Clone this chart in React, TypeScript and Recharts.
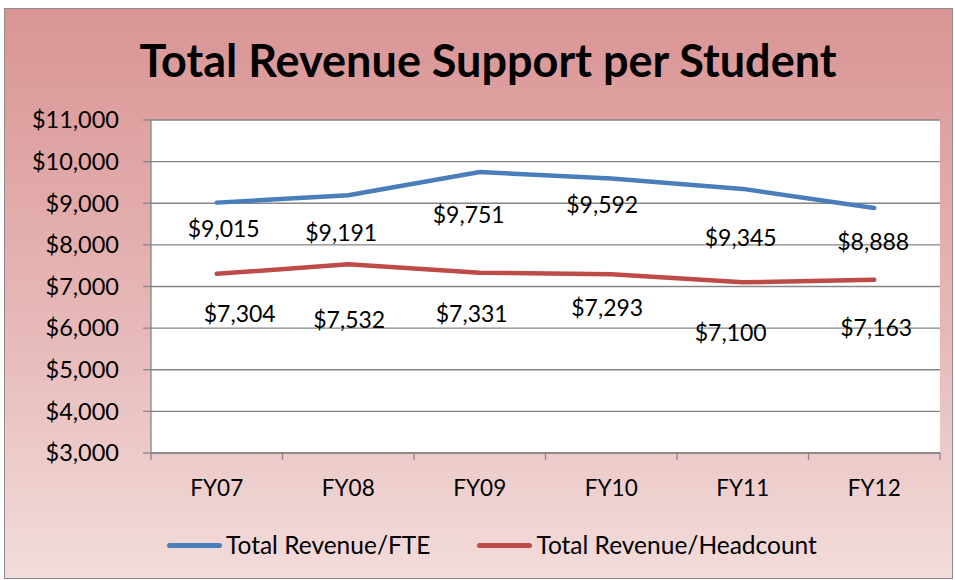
import { CartesianGrid, LabelList, Line, LineChart, XAxis, YAxis } from "recharts";

const YEARS = ["FY07", "FY08", "FY09", "FY10", "FY11", "FY12"];
const REVENUE_PER_FTE = [9015, 9191, 9751, 9592, 9345, 8888];
const REVENUE_PER_HEADCOUNT = [7304, 7532, 7331, 7293, 7100, 7163];
const Y_TICKS = [3000, 4000, 5000, 6000, 7000, 8000, 9000, 10000, 11000];

// label nudges from the point (dx, dy), the source had them placed by hand
const FTE_LABEL_NUDGE = [[7, 25], [-7, 37], [-11, 42], [-9, 25], [-2, 48], [-1, 33]];
const HEADCOUNT_LABEL_NUDGE = [[23, 39], [1, 55], [-8, 40], [-4, 33], [-12, 50], [2, 47]];

const BLUE = "#4a7ebb";
const RED = "#be4b48";
const GRID = "#868686";
const FONT = "Lato, 'Open Sans', sans-serif";

const W = 955;
const H = 580;
const PLOT = { left: 151, right: 940, top: 120, bottom: 453 };
const HALF_BAND = (PLOT.right - PLOT.left) / YEARS.length / 2;

const data = YEARS.map((year, i) => ({
  year,
  fte: REVENUE_PER_FTE[i],
  headcount: REVENUE_PER_HEADCOUNT[i],
}));

const money = (v: number) => "$" + v.toLocaleString("en-US");

function makeLabel(nudges: number[][]) {
  return (props: any) => {
    const { x, y, value, index } = props;
    const [dx, dy] = nudges[index] ?? [0, 35];
    return (
      <text
        x={Number(x) + dx}
        y={Number(y) + dy}
        textAnchor="middle"
        dominantBaseline="central"
        fontFamily={FONT}
        fontSize={23}
        fill="#000"
      >
        {money(Number(value))}
      </text>
    );
  };
}

function YearTick(props: any) {
  const { x, y, payload, index } = props;
  const last = index === YEARS.length - 1;
  return (
    <g>
      <line x1={x - HALF_BAND} x2={x - HALF_BAND} y1={y} y2={y + 7} stroke={GRID} strokeWidth={1.3} />
      {last && (
        <line x1={x + HALF_BAND} x2={x + HALF_BAND} y1={y} y2={y + 7} stroke={GRID} strokeWidth={1.3} />
      )}
      <text
        x={x}
        y={y + 34}
        textAnchor="middle"
        dominantBaseline="central"
        fontFamily={FONT}
        fontSize={22.5}
        fill="#000"
      >
        {payload.value}
      </text>
    </g>
  );
}

function LegendItem({ color, label }: { color: string; label: string }) {
  return (
    <div style={{ display: "flex", alignItems: "center" }}>
      <div style={{ width: 55, height: 5, borderRadius: 3, background: color, marginRight: 4 }} />
      <span>{label}</span>
    </div>
  );
}

export default function App() {
  return (
    <div style={{ position: "absolute", left: 0, top: 0, width: W, height: H, background: "#fff" }}>
      <div
        style={{
          position: "absolute",
          left: 4,
          top: 8,
          width: 947,
          height: 569,
          border: "1px solid #8c8c8c",
          background: "linear-gradient(to bottom, #d99594 0%, #e6b8b7 55%, #f2dcdb 100%)",
        }}
      />
      <div
        style={{
          position: "absolute",
          left: 0,
          top: 34,
          width: 976,
          textAlign: "center",
          fontFamily: FONT,
          fontWeight: 700,
          fontSize: 45,
          lineHeight: "52px",
          color: "#000",
        }}
      >
        Total Revenue Support per Student
      </div>
      <div style={{ position: "absolute", left: 0, top: 0 }}>
        <LineChart
          width={W}
          height={H}
          data={data}
          margin={{ top: PLOT.top, right: W - PLOT.right, bottom: 0, left: 0 }}
        >
          <CartesianGrid
            vertical={false}
            stroke={GRID}
            strokeWidth={1.3}
            fill="#ffffff"
            fillOpacity={1}
          />
          <XAxis
            dataKey="year"
            height={H - PLOT.bottom}
            padding={{ left: HALF_BAND, right: HALF_BAND }}
            axisLine={{ stroke: GRID, strokeWidth: 1.3 }}
            tickLine={false}
            tickSize={0}
            tickMargin={0}
            tick={<YearTick />}
            interval={0}
          />
          <YAxis
            width={PLOT.left}
            domain={[3000, 11000]}
            ticks={Y_TICKS}
            interval={0}
            tickFormatter={money}
            axisLine={{ stroke: GRID, strokeWidth: 1.3 }}
            tickLine={{ stroke: GRID, strokeWidth: 1.3 }}
            tickSize={8}
            tickMargin={24}
            tick={{ fontFamily: FONT, fontSize: 23.5, fill: "#000" }}
          />
          <Line
            type="linear"
            dataKey="fte"
            stroke={BLUE}
            strokeWidth={4.5}
            strokeLinecap="round"
            strokeLinejoin="round"
            dot={false}
            isAnimationActive={false}
          >
            <LabelList dataKey="fte" content={makeLabel(FTE_LABEL_NUDGE)} />
          </Line>
          <Line
            type="linear"
            dataKey="headcount"
            stroke={RED}
            strokeWidth={4.5}
            strokeLinecap="round"
            strokeLinejoin="round"
            dot={false}
            isAnimationActive={false}
          >
            <LabelList dataKey="headcount" content={makeLabel(HEADCOUNT_LABEL_NUDGE)} />
          </Line>
        </LineChart>
      </div>
      <div
        style={{
          position: "absolute",
          left: 167,
          top: 529,
          display: "flex",
          gap: 47,
          fontFamily: FONT,
          fontSize: 24.5,
          lineHeight: "32px",
          color: "#000",
        }}
      >
        <LegendItem color={BLUE} label="Total Revenue/FTE" />
        <LegendItem color={RED} label="Total Revenue/Headcount" />
      </div>
    </div>
  );
}
